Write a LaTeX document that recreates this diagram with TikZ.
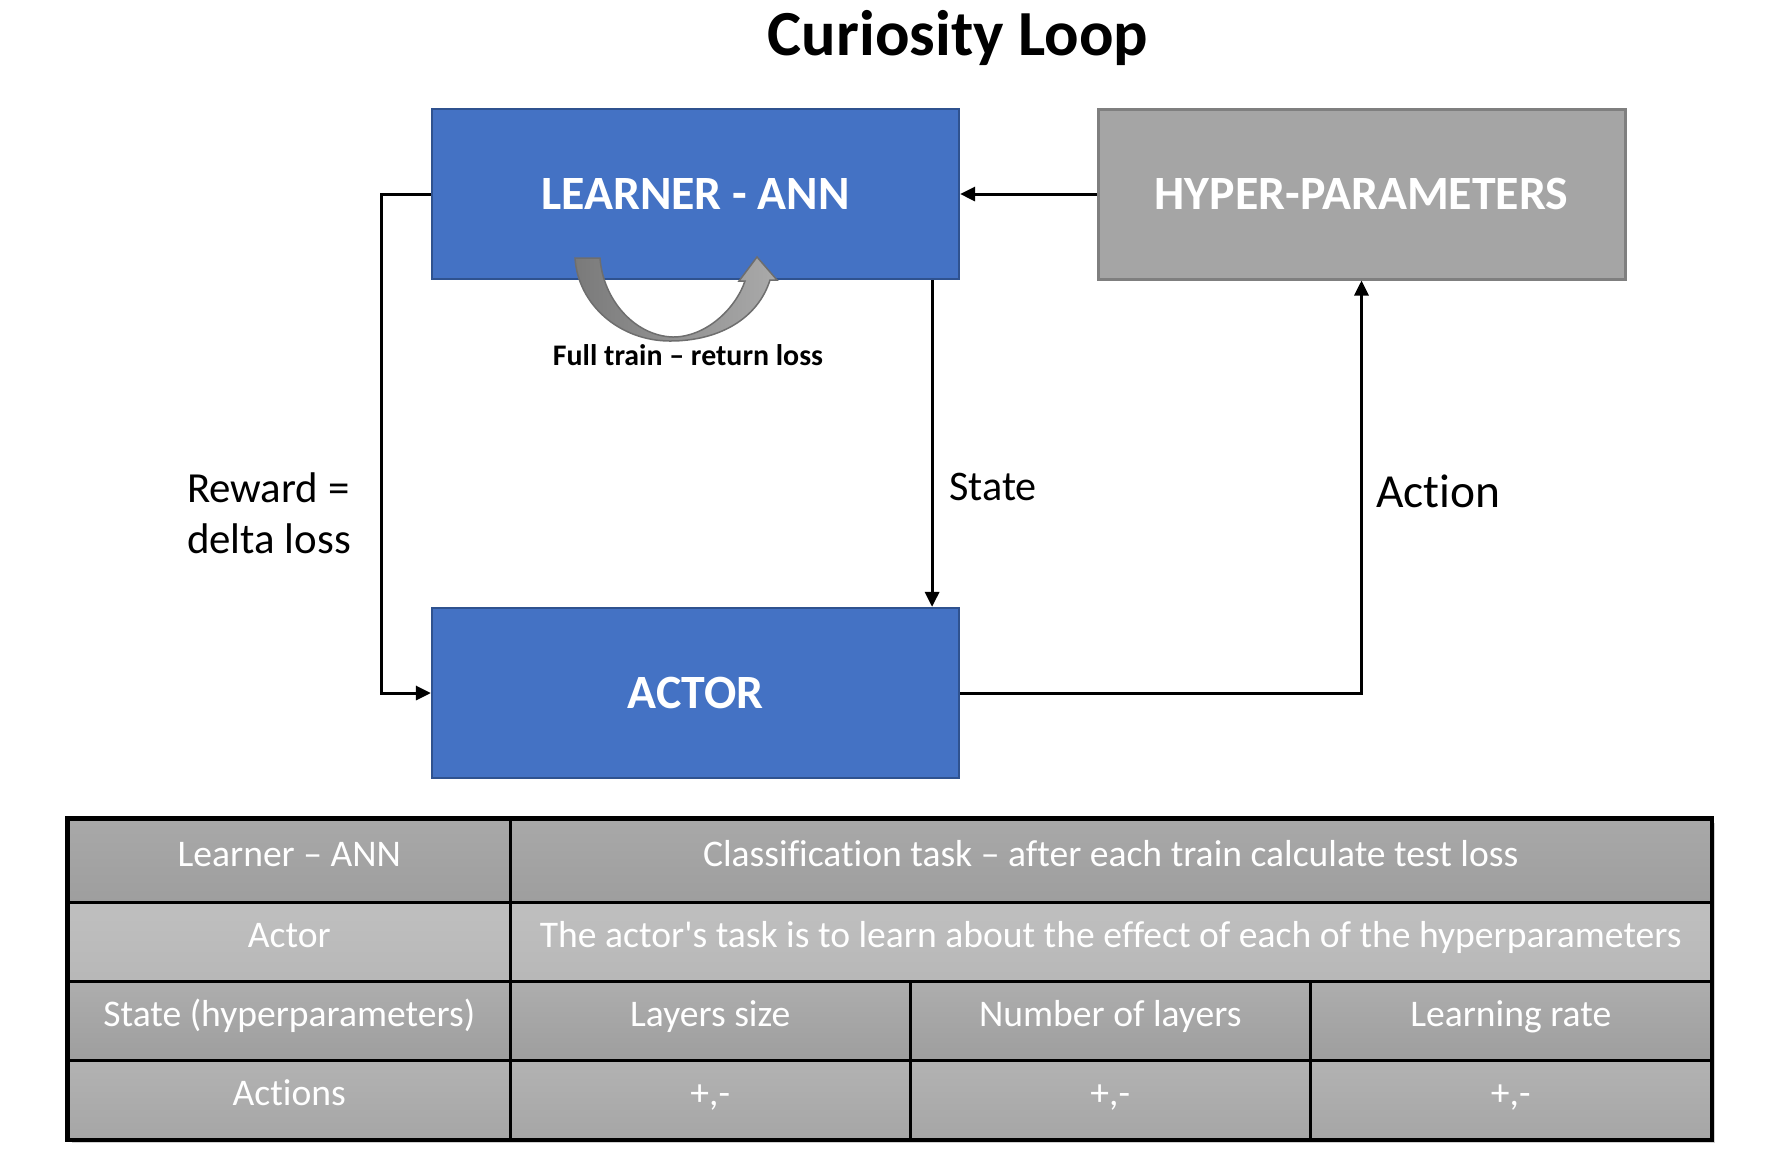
\documentclass[tikz,border=0pt]{standalone}
\usepackage{fontspec}
\setmainfont{Carlito}[Ligatures={TeX,NoCommon}]
\usepackage{tikz}
\usetikzlibrary{arrows.meta,positioning,calc}
\definecolor{loopBlue}{RGB}{68, 114, 196}
\definecolor{loopBlueEdge}{RGB}{47, 82, 143}
\definecolor{loopGray}{RGB}{165, 165, 165}
\definecolor{loopGrayEdge}{RGB}{127, 127, 127}
\definecolor{curlDark}{RGB}{122, 122, 122}
\definecolor{curlLight}{RGB}{170, 170, 170}
\definecolor{curlEdge}{RGB}{110, 110, 110}

\begin{document}
\begin{tikzpicture}[x=0.1mm, y=-0.1mm,
        box/.style={minimum width=52.7mm, minimum height=17mm, inner sep=0pt, text=white,
            font=\fontsize{13.6pt}{16pt}\selectfont\bfseries},
        blueBox/.style={box, fill=loopBlue, draw=loopBlueEdge, line width=0.22mm},
        grayBox/.style={box, fill=loopGray, draw=loopGrayEdge, line width=0.3mm},
        conn/.style={line width=0.3mm, -{Triangle[length=1.5mm, width=1.4mm]}},
        cell/.style={draw=black, line width=0.25mm, anchor=north west, inner sep=0pt, text=white,
            font=\fontsize{10.7pt}{12pt}\selectfont, text height=2.6mm, text depth=1.4mm},
        rowA/.style={cell, top color=gray!68, bottom color=gray!76},
        rowB/.style={cell, top color=gray!50, bottom color=gray!56},
        rowC/.style={cell, top color=gray!64, bottom color=gray!76},
        rowD/.style={cell, top color=gray!60, bottom color=gray!70}]
    \useasboundingbox (0,0) rectangle (1788,1158);

    % title
    \node[font=\fontsize{18.3pt}{22pt}\selectfont\bfseries] (title) at (958,38) {Curiosity Loop};

    % the three blocks
    \node[blueBox] (learner) at (695.5,194) {LEARNER - ANN};
    \node[grayBox] (hyper) at (1361.5,194) {HYPER-PARAMETERS};
    \node[blueBox] (actor) at (695.5,693) {ACTOR};

    % loop connectors
    \draw[conn] (hyper.west) -- (learner.east);
    \draw[conn] ([xshift=-2.8mm]learner.south east) -- ([xshift=-2.8mm]actor.north east);
    \draw[conn] (actor.east) -| (hyper.south);
    \draw[conn] (learner.west) -- ++(-49,0) |- (actor.west);

    \node[anchor=west, font=\fontsize{12pt}{14pt}\selectfont] (stateLbl) at (937,487) {State};
    \node[anchor=west, font=\fontsize{13.5pt}{16pt}\selectfont] (actionLbl) at (1364,491) {Action};
    \node[align=left, font=\fontsize{12.2pt}{14.6pt}\selectfont] (rewardLbl) at (269,513) {Reward =\\delta loss};

    % self loop of the learner
    \shade[left color=curlDark, right color=curlLight, draw=curlEdge, line width=0.15mm]
        (575,258) -- (600,258)
        .. controls (603,300) and (635,336) .. (673,337)
        .. controls (705,337) and (735,310) .. (745,281)
        -- (739,281) -- (757,257) -- (777,280) -- (770,280)
        .. controls (758,318) and (720,341) .. (670,341)
        .. controls (620,341) and (578,305) .. (575,258) -- cycle;
    \node[font=\fontsize{8.5pt}{10pt}\selectfont\bfseries] (trainLbl) at (688,355) {Full train – return loss};

    % summary table
    \fill[black!18] (72,823) rectangle (1715,1143);
    \node[rowA, minimum width=44.2mm, minimum height=8.3mm] (lrnName) at (67,818) {Learner – ANN};
    \node[rowA, minimum width=120.1mm, minimum height=8.3mm] (lrnDesc) at (509,818) {Classification task – after each train calculate test loss};
    \node[rowB, minimum width=44.2mm, minimum height=7.9mm] (actName) at (67,901) {Actor};
    \node[rowB, minimum width=120.1mm, minimum height=7.9mm] (actDesc) at (509,901) {The actor\textquotesingle s task is to learn about the effect of each of the hyperparameters};
    \node[rowC, minimum width=44.2mm, minimum height=7.9mm] (stName) at (67,980) {State (hyperparameters)};
    \node[rowC, minimum width=40mm, minimum height=7.9mm] (stSize) at (509,980) {Layers size};
    \node[rowC, minimum width=40mm, minimum height=7.9mm] (stLayers) at (909,980) {Number of layers};
    \node[rowC, minimum width=40.1mm, minimum height=7.9mm] (stRate) at (1309,980) {Learning rate};
    \node[rowD, minimum width=44.2mm, minimum height=7.9mm] (acName) at (67,1059) {Actions};
    \node[rowD, minimum width=40mm, minimum height=7.9mm] (acSize) at (509,1059) {+,-};
    \node[rowD, minimum width=40mm, minimum height=7.9mm] (acLayers) at (909,1059) {+,-};
    \node[rowD, minimum width=40.1mm, minimum height=7.9mm] (acRate) at (1309,1059) {+,-};
    \draw[line width=0.32mm] (lrnName.north west) rectangle (acRate.south east);
\end{tikzpicture}
\end{document}
